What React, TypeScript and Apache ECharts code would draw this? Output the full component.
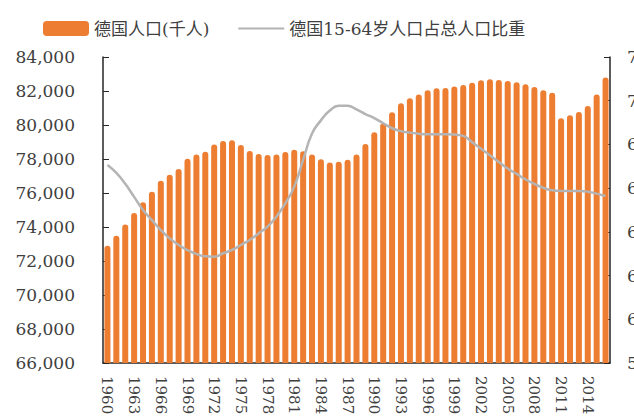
import React, { useEffect, useRef } from "react";
import * as echarts from "echarts";

const years: string[] = [];
for (let y = 1960; y <= 2016; y++) years.push(String(y));

const population: number[] = [
  72900, 73490, 74140, 74820, 75450, 76080, 76720, 77080, 77410, 78020,
  78270, 78430, 78850, 79060, 79100, 78820, 78470, 78290, 78240, 78270,
  78410, 78550, 78450, 78270, 77980, 77800, 77840, 77960, 78270, 78880,
  79570, 80100, 80750, 81280, 81570, 81800, 82040, 82160, 82180, 82260,
  82350, 82490, 82630, 82690, 82650, 82590, 82510, 82390, 82240, 82040,
  81900, 80390, 80570, 80760, 81120, 81800, 82800,
];

const workingShare: number[] = [
  67.06, 66.7, 66.2, 65.6, 65.0, 64.54, 64.08, 63.7, 63.4, 63.17,
  62.99, 62.88, 62.86, 63.02, 63.17, 63.4, 63.63, 63.93, 64.24, 64.7,
  65.3, 66.07, 67.29, 68.5, 69.1, 69.55, 69.77, 69.77, 69.6, 69.39,
  69.2, 68.97, 68.74, 68.61, 68.54, 68.49, 68.46, 68.46, 68.46, 68.45,
  68.39, 68.1, 67.8, 67.5, 67.2, 66.9, 66.65, 66.4, 66.19, 66.02,
  65.9, 65.87, 65.87, 65.87, 65.84, 65.75, 65.64,
];

const FONT = "'DejaVu Serif', 'Noto Sans CJK SC', serif";
const TEXT = "#404040";

export default function App() {
  const ref = useRef<HTMLDivElement>(null);
  useEffect(() => {
    if (!ref.current) return;
    const chart = echarts.init(ref.current, undefined, { renderer: "svg" });
    chart.setOption({
      animation: false,
      backgroundColor: "#ffffff",
      textStyle: { fontFamily: FONT },
      legend: {
        left: 38,
        top: 15,
        itemGap: 28,
        textStyle: { fontFamily: FONT, fontSize: 17, color: TEXT },
        data: [
          { name: "德国人口(千人)", icon: "roundRect", itemStyle: { color: "#ED7D31" } },
          { name: "德国15-64岁人口占总人口比重", itemStyle: { opacity: 0 } },
        ],
        itemWidth: 46,
        itemHeight: 15,
      },
      grid: { left: 103, right: 24, top: 57, bottom: 56, outerBoundsMode: "none", containLabel: false },
      xAxis: {
        type: "category",
        data: years,
        axisLine: { lineStyle: { color: "#262626", width: 1.5 } },
        axisTick: { inside: true, interval: 2, length: 6, lineStyle: { color: "#7f7f7f" } },
        axisLabel: {
          interval: 2,
          rotate: -90,
          margin: 13,
          fontFamily: FONT,
          fontSize: 15,
          color: TEXT,
        },
      },
      yAxis: [
        {
          type: "value",
          min: 66000,
          max: 84000,
          interval: 2000,
          splitLine: { show: false },
          axisLine: { show: true, lineStyle: { color: "#262626", width: 1.5 } },
          axisTick: { show: true, inside: true, length: 6, lineStyle: { color: "#262626" } },
          axisLabel: {
            margin: 28,
            fontFamily: FONT,
            fontSize: 17,
            color: TEXT,
            formatter: (v: number) => v.toLocaleString("en-US"),
          },
        },
        {
          type: "value",
          min: 58,
          max: 72,
          interval: 2,
          position: "right",
          splitLine: { show: false },
          axisLine: { show: true, lineStyle: { color: "#262626", width: 1.5 } },
          axisTick: { show: true, inside: true, length: 6, lineStyle: { color: "#262626" } },
          axisLabel: {
            margin: 17,
            fontFamily: FONT,
            fontSize: 17,
            color: TEXT,
            formatter: (v: number) => v.toFixed(1) + "%",
          },
        },
      ],
      series: [
        {
          name: "德国人口(千人)",
          type: "bar",
          data: population,
          barWidth: 6,
          itemStyle: { color: "#ED7D31", borderRadius: [3, 3, 0, 0] },
        },
        {
          name: "德国15-64岁人口占总人口比重",
          type: "line",
          yAxisIndex: 1,
          data: workingShare,
          smooth: true,
          symbol: "none",
          lineStyle: { color: "#b4b4b4", width: 2.5 },
          itemStyle: { color: "#b4b4b4" },
        },
      ],
    });
    return () => chart.dispose();
  }, []);
  return (
    <div
      ref={ref}
      style={{ position: "fixed", left: 0, top: 0, width: 634, height: 419, background: "#fff" }}
    />
  );
}
